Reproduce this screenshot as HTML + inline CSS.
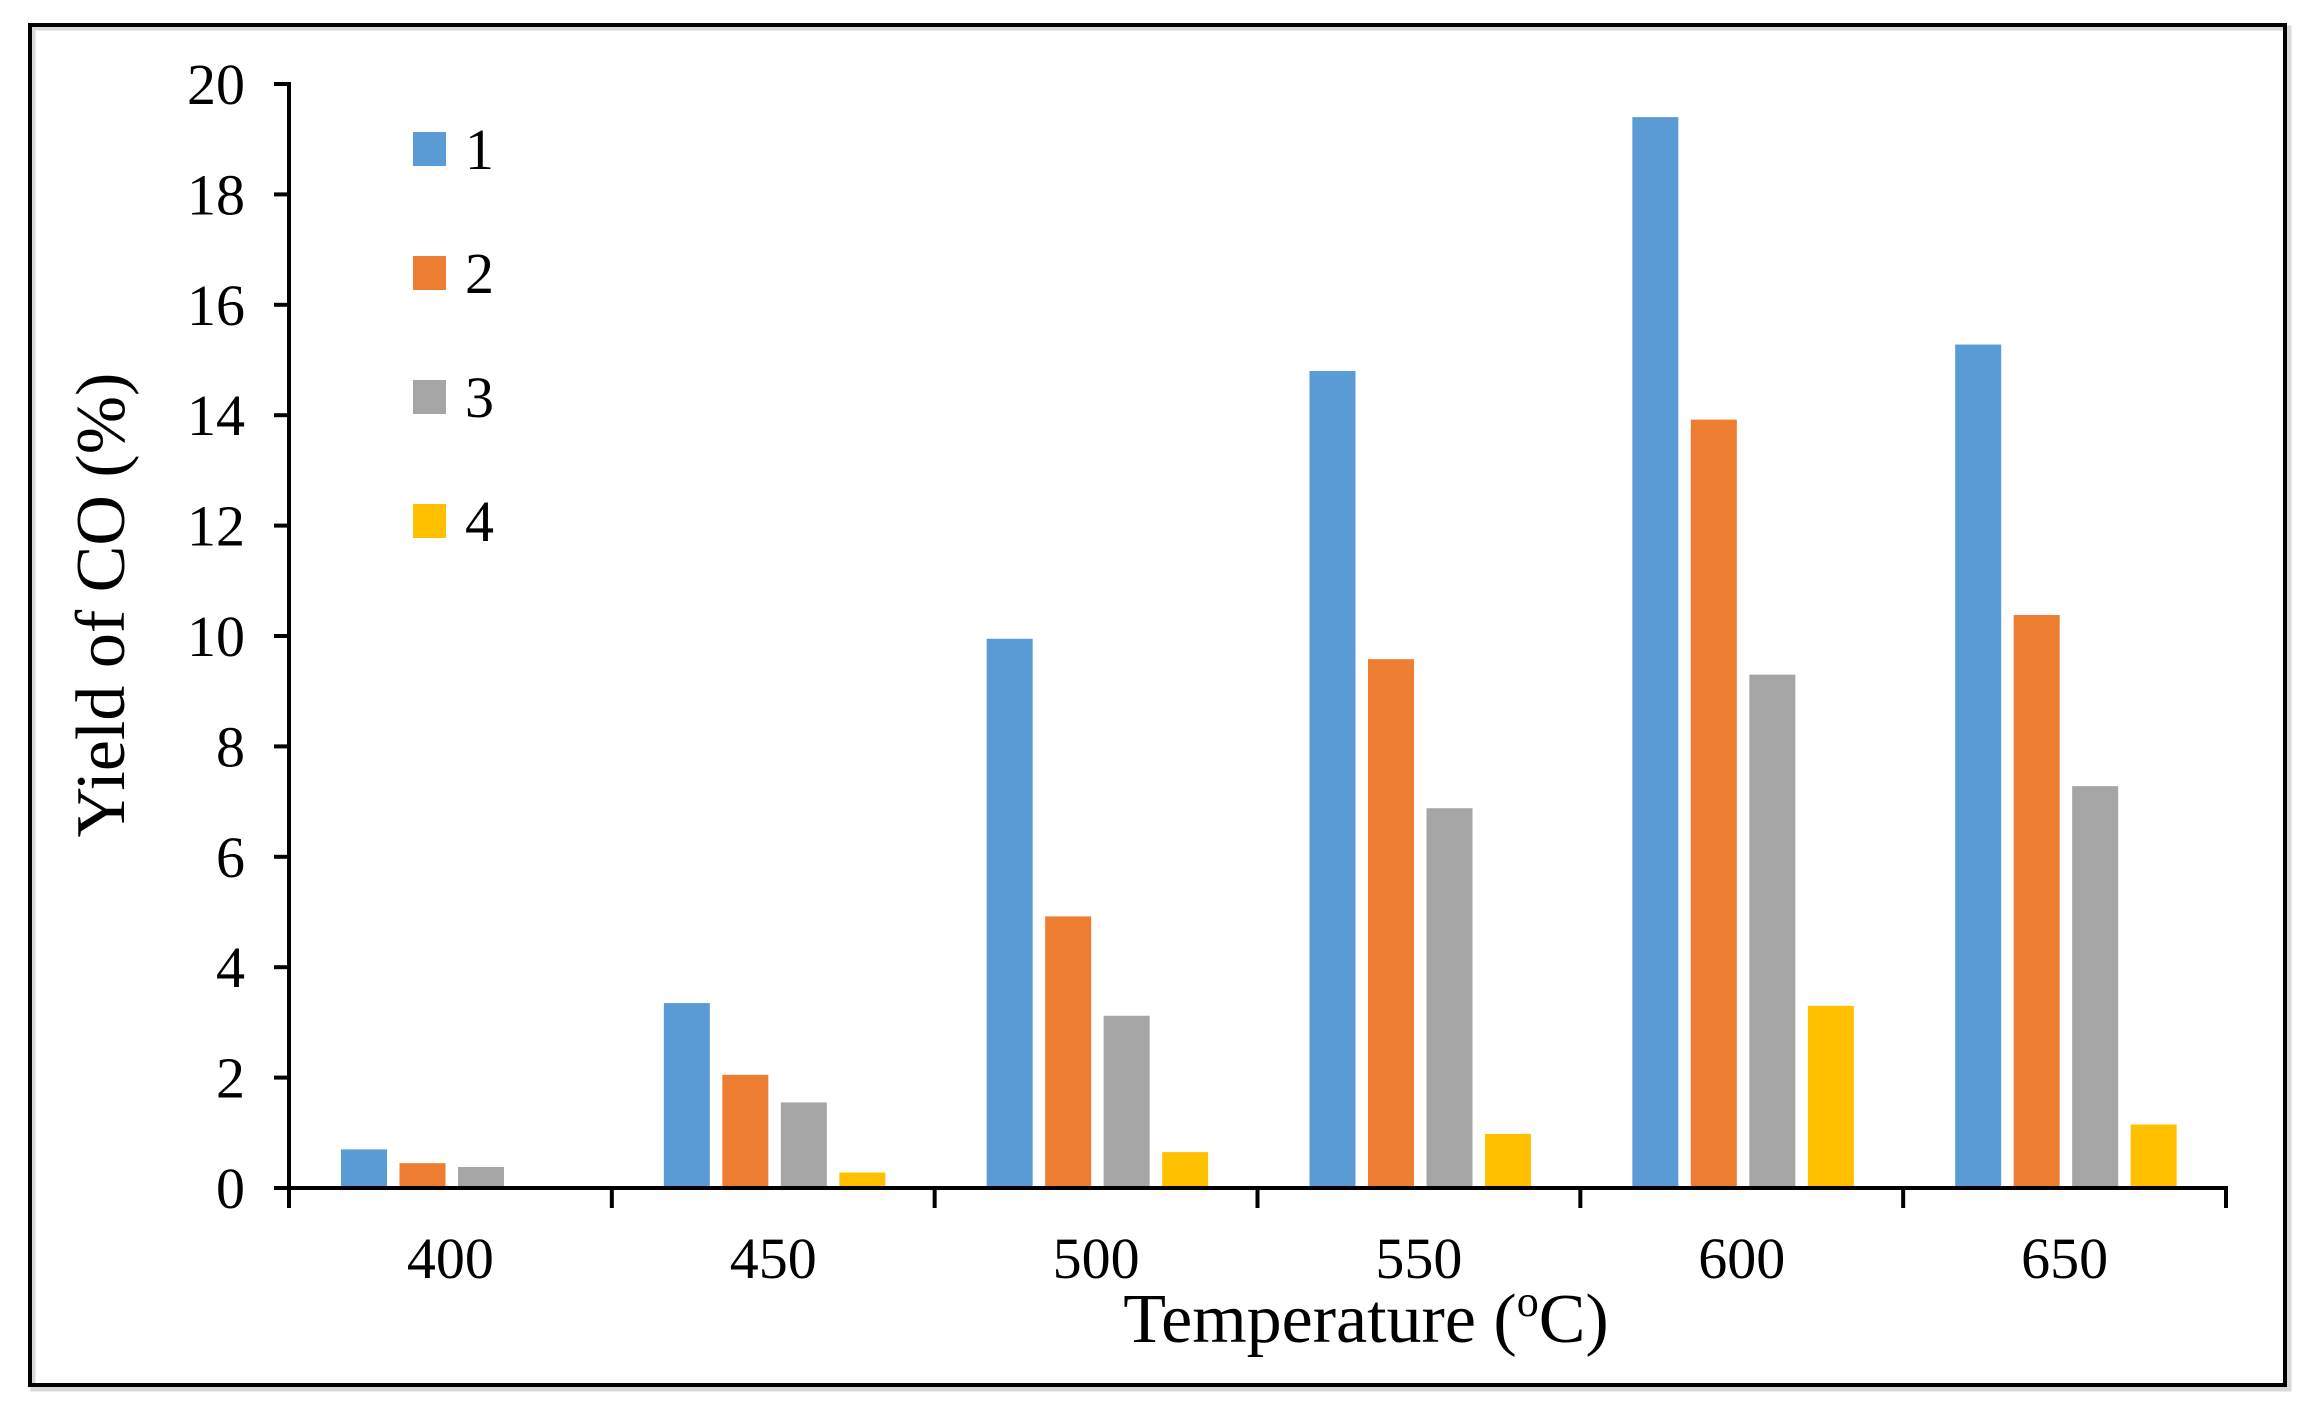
<!DOCTYPE html>
<html><head><meta charset="utf-8"><style>
html,body{margin:0;padding:0;background:#fff;}
svg{display:block;font-family:"Liberation Serif",serif;}
</style></head><body>
<svg id="chart" width="2315" height="1407" viewBox="0 0 2315 1407" xmlns="http://www.w3.org/2000/svg">
<rect x="33" y="28" width="2256" height="1361" fill="none" stroke="#d8d8d8" stroke-width="5"/>
<rect x="30" y="25" width="2255" height="1360" fill="none" stroke="#000" stroke-width="4"/>
<g id="bars"></g>
<g id="axes"></g>
<text transform="translate(124,605) rotate(-90)" text-anchor="middle" font-size="70">Yield of CO (%)</text>
<text x="1366" y="1342" text-anchor="middle" font-size="70">Temperature (<tspan font-size="44" dy="-26">o</tspan><tspan dy="26">C)</tspan></text>
<g id="legend"></g>
</svg>
<script>
const categories = ["400","450","500","550","600","650"];
const series1 = [0.7, 3.35, 9.95, 14.8, 19.4, 15.28];
const series2 = [0.45, 2.05, 4.92, 9.58, 13.92, 10.38];
const series3 = [0.38, 1.55, 3.12, 6.88, 9.3, 7.28];
const series4 = [0, 0.28, 0.65, 0.98, 3.3, 1.15];
const seriesNames = ["1","2","3","4"];
const yTicks = [0,2,4,6,8,10,12,14,16,18,20];

const NS="http://www.w3.org/2000/svg";
const colors=["#5b9bd5","#ed7d31","#a5a5a5","#ffc000"];
const X0=289, X1=2226, Y0=1188, YT=84, YMAX=20;
const catW=(X1-X0)/categories.length;
const yS=v=>Y0-(v/YMAX)*(Y0-YT);
const xCat=i=>X0+i*catW;
function mk(tag,attrs,parent){const e=document.createElementNS(NS,tag);for(const k in attrs)e.setAttribute(k,attrs[k]);parent.appendChild(e);return e;}
const bars=document.getElementById('bars'), axes=document.getElementById('axes'), legend=document.getElementById('legend');
const allSeries=[series1,series2,series3,series4];
const barW=46, step=58.5, off=52;
allSeries.forEach((s,si)=>{
  s.forEach((v,ci)=>{
    if(v<=0)return;
    const r=mk('rect',{x:xCat(ci)+off+si*step,y:yS(v),width:barW,height:Y0-yS(v),fill:colors[si]},bars);
    
    
  });
});
const ya=mk('line',{x1:X0,y1:YT-2,x2:X0,y2:Y0+2,stroke:'#000','stroke-width':4},axes);


const xa=mk('line',{x1:X0-2,y1:Y0,x2:X1+2,y2:Y0,stroke:'#000','stroke-width':4},axes);


yTicks.forEach(t=>{
  const y=yS(t);
  mk('line',{x1:X0-15,y1:y,x2:X0,y2:y,stroke:'#000','stroke-width':4},axes);
  const tx=mk('text',{x:X0-44,y:y+20,'text-anchor':'end','font-size':58},axes);
  tx.textContent=t;
  
  
});
for(let i=0;i<=categories.length;i++){
  mk('line',{x1:xCat(i),y1:Y0,x2:xCat(i),y2:Y0+20,stroke:'#000','stroke-width':4},axes);
}
categories.forEach((c,i)=>{
  const tx=mk('text',{x:xCat(i)+catW/2,y:1278,'text-anchor':'middle','font-size':58},axes);
  tx.textContent=c;
  
  
});
seriesNames.forEach((n,i)=>{
  const cy=149+i*124;
  const g=mk('g',{},legend);
  
  
  mk('rect',{x:413,y:cy-17,width:33,height:34,fill:colors[i]},g);
  const t=mk('text',{x:465,y:cy+20,'font-size':58},g);
  t.textContent=n;
});
</script>
</body></html>
